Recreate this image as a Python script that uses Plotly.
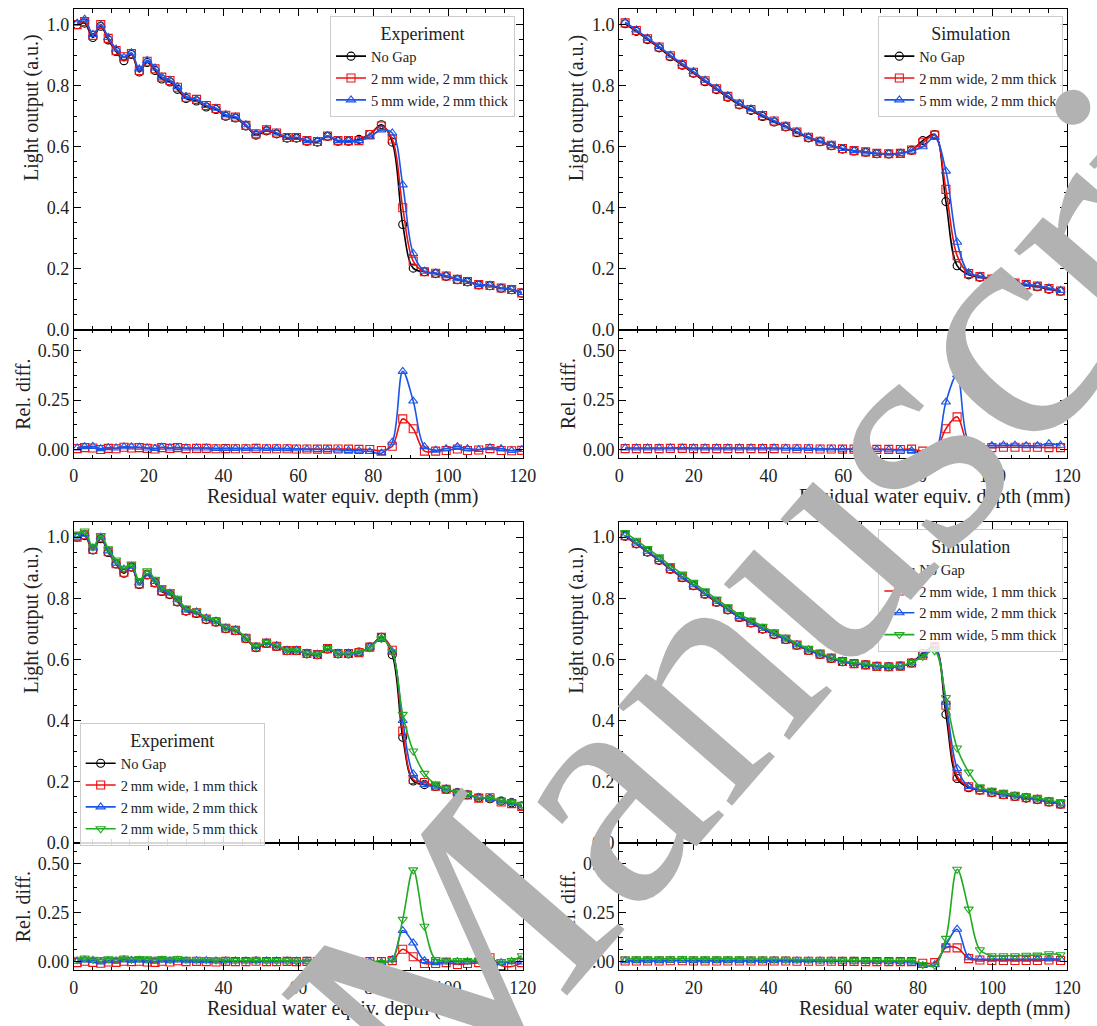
import plotly.graph_objects as go

# ---------------- data ----------------
x_exp = [0.9, 2.9, 5.1, 7.2, 9.2, 11.3, 13.4, 15.4, 17.5, 19.6, 21.7, 23.5, 25.7, 27.7, 30.0,
         32.8, 35.4, 38.0, 40.6, 43.2, 46.0, 48.7, 51.5, 54.2, 57.0, 59.5, 62.3, 65.1, 67.8,
         70.6, 73.4, 76.2, 79.1, 82.2, 85.1, 87.9, 90.7, 93.7, 96.7, 99.5, 102.5, 105.2, 108.2,
         111.2, 114.2, 117.0, 119.7]

x_sim = [1.6, 4.6, 7.6, 10.7, 13.7, 16.9, 19.9, 23.0, 26.1, 29.1, 32.2, 35.3, 38.4, 41.5, 44.6,
         47.6, 50.7, 53.8, 56.8, 59.8, 62.9, 66.0, 69.0, 72.2, 75.3, 78.3, 81.3, 84.5, 87.5, 90.5,
         93.6, 96.6, 99.8, 102.9, 106.0, 109.0, 112.0, 115.1, 118.2]

# Experiment, No Gap
exp_nogap = [1.000, 1.005, 0.958, 0.995, 0.950, 0.912, 0.882, 0.902, 0.845, 0.876, 0.850, 0.822,
             0.812, 0.788, 0.758, 0.750, 0.730, 0.722, 0.700, 0.694, 0.668, 0.638, 0.652, 0.642,
             0.628, 0.628, 0.618, 0.615, 0.634, 0.618, 0.618, 0.624, 0.640, 0.672, 0.615, 0.345,
             0.202, 0.190, 0.184, 0.175, 0.164, 0.157, 0.147, 0.144, 0.136, 0.131, 0.120]
# Experiment, 2 mm wide, 2 mm thick
exp_w2_t2 = [1.000, 1.010, 0.965, 1.000, 0.955, 0.915, 0.895, 0.905, 0.850, 0.880, 0.855, 0.828,
             0.817, 0.795, 0.762, 0.755, 0.735, 0.725, 0.703, 0.697, 0.670, 0.642, 0.655, 0.645,
             0.630, 0.630, 0.620, 0.617, 0.635, 0.620, 0.620, 0.620, 0.640, 0.668, 0.625, 0.400,
             0.225, 0.190, 0.185, 0.176, 0.165, 0.158, 0.148, 0.145, 0.137, 0.132, 0.121]
# Experiment, 5 mm wide, 2 mm thick
exp_w5_t2 = [1.005, 1.018, 0.968, 0.998, 0.958, 0.920, 0.893, 0.908, 0.855, 0.883, 0.858, 0.828,
             0.818, 0.797, 0.765, 0.755, 0.735, 0.726, 0.705, 0.698, 0.672, 0.643, 0.657, 0.645,
             0.630, 0.630, 0.620, 0.618, 0.636, 0.620, 0.620, 0.620, 0.632, 0.655, 0.645, 0.475,
             0.250, 0.192, 0.186, 0.177, 0.167, 0.158, 0.148, 0.146, 0.137, 0.132, 0.122]
# Experiment, 2 mm wide, 1 mm thick
exp_w2_t1 = [1.000, 1.008, 0.960, 0.998, 0.952, 0.913, 0.885, 0.903, 0.847, 0.878, 0.852, 0.824,
             0.814, 0.790, 0.760, 0.752, 0.732, 0.723, 0.702, 0.695, 0.669, 0.640, 0.653, 0.643,
             0.629, 0.629, 0.619, 0.616, 0.635, 0.619, 0.619, 0.622, 0.640, 0.672, 0.630, 0.365,
             0.207, 0.197, 0.185, 0.175, 0.162, 0.156, 0.146, 0.147, 0.133, 0.128, 0.119]
# Experiment, 2 mm wide, 5 mm thick
exp_w2_t5 = [1.010, 1.020, 0.968, 1.005, 0.962, 0.925, 0.898, 0.912, 0.858, 0.890, 0.862, 0.835,
             0.822, 0.800, 0.768, 0.757, 0.737, 0.727, 0.705, 0.698, 0.672, 0.642, 0.655, 0.645,
             0.630, 0.630, 0.620, 0.617, 0.636, 0.620, 0.619, 0.624, 0.638, 0.668, 0.625, 0.420,
             0.300, 0.227, 0.190, 0.176, 0.165, 0.158, 0.148, 0.146, 0.137, 0.132, 0.124]

# Simulation, No Gap
sim_nogap = [1.003, 0.978, 0.951, 0.924, 0.895, 0.867, 0.841, 0.813, 0.787, 0.762, 0.737, 0.719,
             0.699, 0.681, 0.665, 0.646, 0.629, 0.616, 0.603, 0.592, 0.586, 0.582, 0.577, 0.576,
             0.578, 0.588, 0.620, 0.640, 0.420, 0.210, 0.180, 0.172, 0.164, 0.157, 0.151, 0.146,
             0.141, 0.133, 0.126]
# Simulation, 2 mm wide, 2 mm thick
sim_w2_t2 = [1.006, 0.981, 0.954, 0.927, 0.898, 0.870, 0.844, 0.816, 0.790, 0.765, 0.740, 0.722,
             0.702, 0.684, 0.667, 0.648, 0.631, 0.618, 0.605, 0.594, 0.587, 0.583, 0.578, 0.577,
             0.578, 0.589, 0.613, 0.638, 0.460, 0.243, 0.184, 0.174, 0.166, 0.159, 0.153, 0.148,
             0.143, 0.135, 0.127]
# Simulation, 5 mm wide, 2 mm thick
sim_w5_t2 = [1.008, 0.983, 0.956, 0.929, 0.900, 0.872, 0.846, 0.818, 0.792, 0.767, 0.742, 0.724,
             0.704, 0.685, 0.668, 0.649, 0.632, 0.619, 0.605, 0.594, 0.587, 0.583, 0.578, 0.577,
             0.578, 0.586, 0.600, 0.630, 0.520, 0.287, 0.187, 0.176, 0.167, 0.160, 0.154, 0.149,
             0.144, 0.137, 0.129]
# Simulation, 2 mm wide, 1 mm thick
sim_w2_t1 = [1.005, 0.980, 0.953, 0.926, 0.897, 0.869, 0.843, 0.815, 0.789, 0.764, 0.739, 0.721,
             0.701, 0.683, 0.666, 0.647, 0.630, 0.617, 0.604, 0.593, 0.586, 0.582, 0.577, 0.576,
             0.578, 0.588, 0.614, 0.642, 0.450, 0.218, 0.183, 0.173, 0.165, 0.158, 0.152, 0.147,
             0.142, 0.134, 0.127]
# Simulation, 2 mm wide, 5 mm thick
sim_w2_t5 = [1.015, 0.990, 0.963, 0.936, 0.907, 0.879, 0.852, 0.824, 0.797, 0.772, 0.747, 0.728,
             0.708, 0.689, 0.672, 0.652, 0.635, 0.621, 0.607, 0.596, 0.589, 0.585, 0.580, 0.578,
             0.579, 0.590, 0.610, 0.628, 0.475, 0.310, 0.231, 0.183, 0.170, 0.163, 0.157, 0.151,
             0.146, 0.139, 0.131]

# Relative differences
rd_exp_w2_t2 = [0.005, 0.010, 0.008, 0.000, 0.006, 0.004, 0.012, 0.008, 0.010, 0.006, 0.003, 0.010,
                0.006, 0.010, 0.005, 0.006, 0.006, 0.004, 0.005, 0.004, 0.004, 0.006, 0.004, 0.004,
                0.004, 0.003, 0.003, 0.002, 0.002, 0.003, 0.002, 0.001, 0.000, -0.005, 0.017, 0.155,
                0.105, -0.008, -0.008, -0.005, 0.003, -0.005, -0.002, 0.005, -0.005, -0.006, -0.004]
rd_exp_w5_t2 = [0.008, 0.015, 0.016, 0.005, 0.010, 0.008, 0.014, 0.013, 0.012, 0.008, 0.006, 0.012,
                0.008, 0.010, 0.008, 0.008, 0.008, 0.006, 0.006, 0.006, 0.006, 0.007, 0.006, 0.006,
                0.005, 0.004, 0.002, 0.000, 0.000, -0.002, -0.004, -0.006, -0.010, -0.018, 0.037, 0.395,
                0.245, 0.015, -0.003, 0.005, 0.015, 0.005, 0.000, 0.010, 0.005, -0.005, 0.000]
rd_exp_w2_t1 = [-0.005, 0.002, -0.004, -0.008, -0.002, -0.004, 0.002, 0.000, 0.002, -0.002, -0.004,
                0.002, -0.002, 0.004, 0.000, 0.001, 0.000, -0.002, 0.001, 0.000, 0.000, 0.002, 0.000,
                0.000, 0.001, 0.000, 0.001, 0.000, 0.001, 0.000, 0.000, -0.002, 0.000, 0.000, 0.005,
                0.063, 0.025, -0.010, -0.010, -0.005, -0.015, -0.010, -0.005, 0.020, -0.020, -0.025,
                -0.005]
rd_exp_w2_t2b = [0.002, 0.008, 0.006, -0.002, 0.004, 0.002, 0.010, 0.006, 0.008, 0.004, 0.002, 0.008,
                 0.004, 0.008, 0.004, 0.005, 0.005, 0.003, 0.004, 0.003, 0.003, 0.005, 0.003, 0.003,
                 0.003, 0.002, 0.002, 0.001, 0.001, 0.002, 0.001, 0.000, 0.000, -0.004, 0.010, 0.158,
                 0.095, 0.005, -0.005, -0.002, 0.000, 0.000, 0.002, 0.010, -0.005, 0.000, -0.002]
rd_exp_w2_t5 = [0.012, 0.018, 0.012, 0.010, 0.014, 0.012, 0.018, 0.012, 0.015, 0.014, 0.012, 0.015,
                0.012, 0.016, 0.012, 0.010, 0.010, 0.008, 0.008, 0.006, 0.006, 0.006, 0.005, 0.005,
                0.004, 0.003, 0.002, 0.002, 0.002, 0.002, 0.001, 0.000, -0.002, -0.005, 0.010, 0.215,
                0.467, 0.180, 0.010, 0.008, 0.006, 0.005, 0.008, 0.005, 0.000, 0.005, 0.030]

rd_sim_w2_t2 = [0.005, 0.005, 0.005, 0.005, 0.006, 0.006, 0.005, 0.005, 0.005, 0.005, 0.005, 0.005,
                0.005, 0.005, 0.004, 0.004, 0.004, 0.003, 0.003, 0.002, 0.002, 0.001, 0.001, 0.001,
                0.000, 0.002, -0.008, -0.010, 0.105, 0.165, 0.020, 0.010, 0.010, 0.012, 0.012,
                0.012, 0.012, 0.010, 0.010]
rd_sim_w5_t2 = [0.008, 0.008, 0.008, 0.008, 0.008, 0.009, 0.008, 0.008, 0.008, 0.008, 0.008, 0.008,
                0.008, 0.008, 0.007, 0.006, 0.006, 0.004, 0.003, 0.002, 0.001, 0.000, 0.000, -0.001,
                -0.002, -0.005, -0.022, -0.015, 0.240, 0.378, 0.040, 0.020, 0.020, 0.022, 0.022,
                0.020, 0.020, 0.030, 0.022]
rd_sim_w2_t1 = [0.003, 0.003, 0.003, 0.003, 0.004, 0.004, 0.003, 0.003, 0.003, 0.003, 0.003, 0.003,
                0.003, 0.003, 0.003, 0.002, 0.002, 0.002, 0.002, 0.001, 0.001, 0.000, 0.000, 0.000,
                0.000, 0.000, -0.008, -0.005, 0.070, 0.070, 0.015, 0.008, 0.006, 0.006, 0.006,
                0.006, 0.006, 0.008, 0.006]
rd_sim_w2_t2b = [0.005, 0.005, 0.005, 0.005, 0.006, 0.006, 0.005, 0.005, 0.005, 0.005, 0.005, 0.005,
                 0.005, 0.005, 0.004, 0.004, 0.004, 0.003, 0.003, 0.002, 0.002, 0.001, 0.001, 0.000,
                 0.000, -0.002, -0.020, -0.015, 0.085, 0.165, 0.020, 0.012, 0.012, 0.012, 0.012,
                 0.012, 0.012, 0.014, 0.012]
rd_sim_w2_t5 = [0.013, 0.014, 0.014, 0.014, 0.014, 0.015, 0.014, 0.014, 0.014, 0.014, 0.014, 0.013,
                0.013, 0.012, 0.012, 0.011, 0.010, 0.009, 0.008, 0.007, 0.006, 0.005, 0.005, 0.005,
                0.004, 0.005, -0.015, -0.020, 0.118, 0.470, 0.267, 0.060, 0.030, 0.030, 0.030,
                0.032, 0.033, 0.040, 0.035]

labels_a = ["No Gap", "2\u2009mm wide, 2\u2009mm thick", "5\u2009mm wide, 2\u2009mm thick"]
labels_b = ["No Gap", "2\u2009mm wide, 1\u2009mm thick", "2\u2009mm wide, 2\u2009mm thick",
            "2\u2009mm wide, 5\u2009mm thick"]
legend_titles = ["Experiment", "Simulation", "Experiment", "Simulation"]

# ---------------- styling ----------------
BLACK, RED, BLUE, GREEN = "#000000", "#ee1111", "#1a55e8", "#22aa22"
SYMBOLS = {BLACK: "circle-open", RED: "square-open", BLUE: "triangle-up-open", GREEN: "triangle-down-open"}
FONT = "Liberation Serif"
TXT = "#222222"
W, H = 1097, 1026

# panel pixel boxes: (left, right, top, split, bottom)
panels = [
    (70, 527, 9.5, 333, 463),
    (625, 1081, 9.5, 333, 463),
    (70, 527, 527, 851, 980),
    (625, 1081, 527, 851, 980),
]


def px_x(v):
    return v / W


def px_y(v):
    return 1 - v / H


panel_series = [
    (x_exp, [(exp_nogap, None, BLACK), (exp_w2_t2, rd_exp_w2_t2, RED), (exp_w5_t2, rd_exp_w5_t2, BLUE)], labels_a),
    (x_sim, [(sim_nogap, None, BLACK), (sim_w2_t2, rd_sim_w2_t2, RED), (sim_w5_t2, rd_sim_w5_t2, BLUE)], labels_a),
    (x_exp, [(exp_nogap, None, BLACK), (exp_w2_t1, rd_exp_w2_t1, RED), (exp_w2_t2, rd_exp_w2_t2b, BLUE),
             (exp_w2_t5, rd_exp_w2_t5, GREEN)], labels_b),
    (x_sim, [(sim_nogap, None, BLACK), (sim_w2_t1, rd_sim_w2_t1, RED), (sim_w2_t2, rd_sim_w2_t2b, BLUE),
             (sim_w2_t5, rd_sim_w2_t5, GREEN)], labels_b),
]

fig = go.Figure()

axis_common = dict(
    showline=True, linecolor="black", linewidth=1, mirror="ticks",
    ticks="inside", ticklen=7, tickwidth=1, tickcolor="black",
    showgrid=False, zeroline=False,
    tickfont=dict(family=FONT, size=18, color=TXT),
)


def minor(dt):
    return dict(ticks="inside", ticklen=3.5, tickwidth=1, tickcolor="black", dtick=dt, showgrid=False)


layout = dict(
    width=W, height=H, margin=dict(l=0, r=0, t=0, b=0),
    paper_bgcolor="white", plot_bgcolor="white",
    font=dict(family=FONT, color=TXT),
    showlegend=True,
)

legend_pos = [
    dict(x=519 / W, y=px_y(16), xanchor="right", yanchor="top"),
    dict(x=1077 / W, y=px_y(16), xanchor="right", yanchor="top"),
    dict(x=76 / W, y=px_y(730), xanchor="left", yanchor="top"),
    dict(x=1077 / W, y=px_y(534), xanchor="right", yanchor="top"),
]

annotations = []

for p, (left, right, top, split, bottom) in enumerate(panels):
    xs, series, labels = panel_series[p]
    im = 2 * p + 1
    ir = 2 * p + 2
    lg = "legend" if p == 0 else f"legend{p + 1}"
    for k, (ys, rd, col) in enumerate(series):
        fig.add_trace(go.Scatter(
            x=xs, y=ys, mode="lines+markers", name=labels[k], legend=lg,
            line=dict(color=col, width=1.6, shape="spline", smoothing=1.0),
            marker=dict(symbol=SYMBOLS[col], size=8, color=col, line=dict(width=1.1, color=col)),
            xaxis=f"x{im}", yaxis=f"y{im}", showlegend=True,
        ))
    for k, (ys, rd, col) in enumerate(series):
        if rd is None:
            continue
        fig.add_trace(go.Scatter(
            x=xs, y=rd, mode="lines+markers", name=labels[k], legend=lg,
            line=dict(color=col, width=1.6, shape="spline", smoothing=1.0),
            marker=dict(symbol=SYMBOLS[col], size=8, color=col, line=dict(width=1.1, color=col)),
            xaxis=f"x{ir}", yaxis=f"y{ir}", showlegend=False,
        ))

    xdom = [px_x(left), px_x(right)]
    layout[f"xaxis{im}"] = dict(axis_common, domain=xdom, range=[0, 120], dtick=20, tick0=0,
                                showticklabels=False, anchor=f"y{im}", matches=f"x{ir}", minor=minor(5))
    layout[f"xaxis{ir}"] = dict(axis_common, domain=xdom, range=[0, 120], dtick=20, tick0=0,
                                anchor=f"y{ir}", minor=minor(5), ticklabelstandoff=1)
    layout[f"yaxis{im}"] = dict(axis_common, domain=[px_y(split), px_y(top)], range=[0, 1.05],
                                dtick=0.2, tick0=0, tickformat=".1f", anchor=f"x{im}", minor=minor(0.05))
    layout[f"yaxis{ir}"] = dict(axis_common, domain=[px_y(bottom), px_y(split)], range=[-0.045, 0.605],
                                dtick=0.25, tick0=0, tickformat=".2f", anchor=f"x{ir}", minor=minor(0.0625))

    layout[lg] = dict(legend_pos[p], bgcolor="rgba(255,255,255,0.85)", bordercolor="#cccccc", borderwidth=1,
                      font=dict(family=FONT, size=14.5, color=TXT), itemwidth=30, tracegroupgap=0,
                      title=dict(text=legend_titles[p], side="top center",
                                 font=dict(family=FONT, size=18, color=TXT)))

    # axis titles
    annotations.append(dict(text="Light output (a.u.)", x=(left - 43) / W, y=px_y(top + 99),
                            xref="paper", yref="paper", showarrow=False, textangle=-90, borderpad=0,
                            font=dict(family=FONT, size=20, color=TXT), xanchor="center", yanchor="middle"))
    annotations.append(dict(text="Rel. diff.", x=(left - 52) / W, y=px_y((split + bottom) / 2),
                            xref="paper", yref="paper", showarrow=False, textangle=-90, borderpad=0,
                            font=dict(family=FONT, size=20, color=TXT), xanchor="center", yanchor="middle"))
    xl_center = 343 if p in (0, 2) else 946
    annotations.append(dict(text="Residual water equiv. depth (mm)", x=xl_center / W, y=px_y(bottom + 38),
                            xref="paper", yref="paper", showarrow=False, borderpad=0,
                            font=dict(family=FONT, size=20, color=TXT), xanchor="center", yanchor="middle"))

# watermark
annotations.append(dict(text="Manuscript", x=858 / W, y=px_y(508), xref="paper", yref="paper",
                        showarrow=False, textangle=-49, xanchor="center", yanchor="middle",
                        font=dict(family=FONT, size=330, color="rgb(178,178,178)")))

layout["annotations"] = annotations
fig.update_layout(**layout)
fig.write_html("out.html")
